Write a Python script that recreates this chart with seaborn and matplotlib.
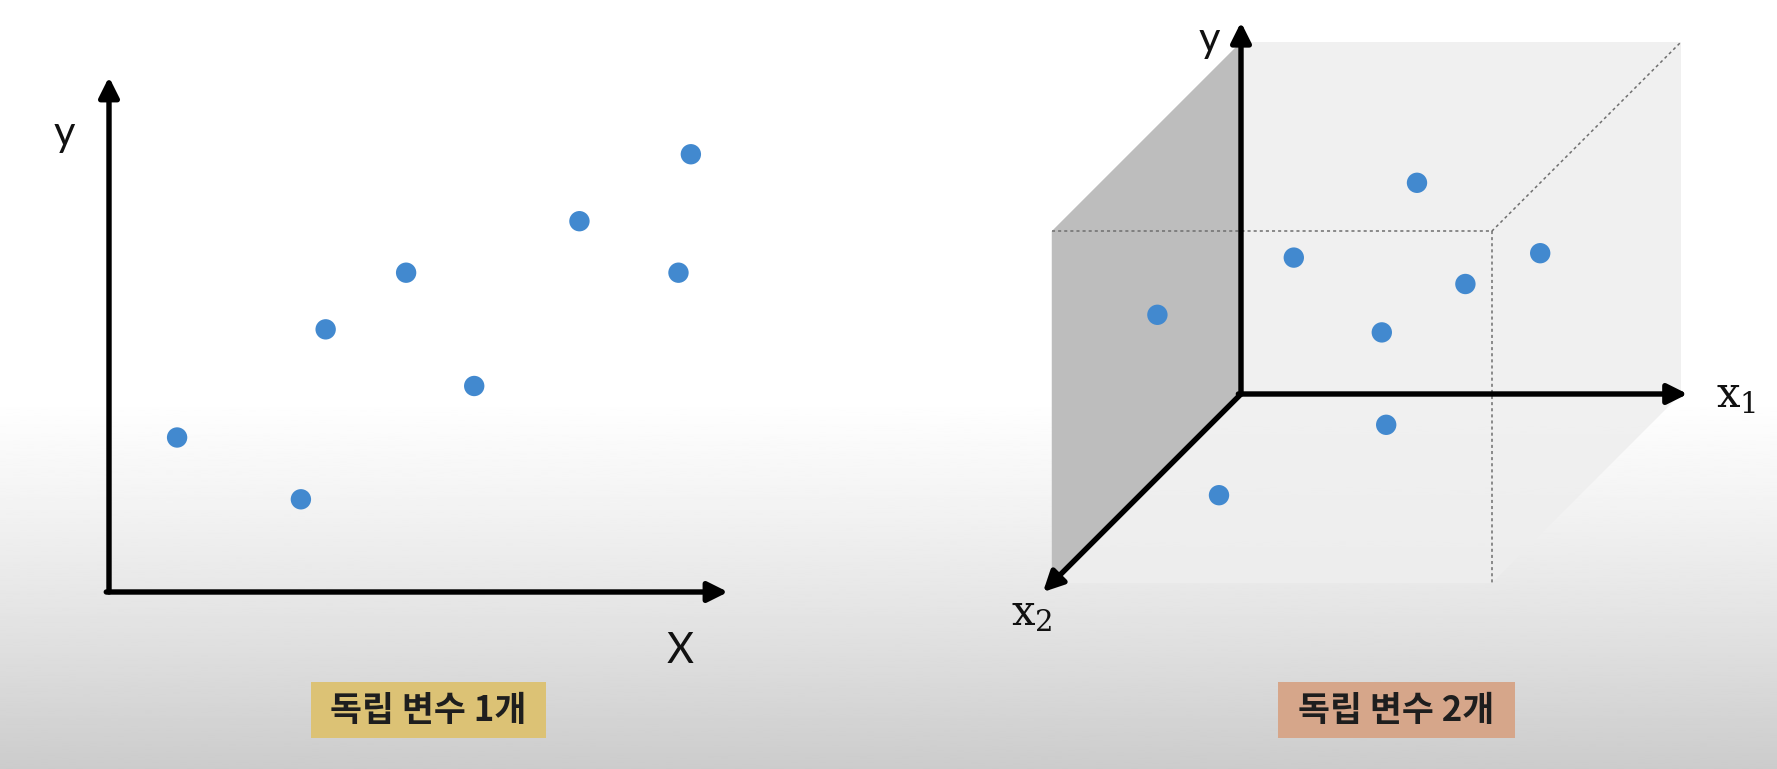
import numpy as np
import pandas as pd
import matplotlib
matplotlib.use("Agg")
import matplotlib.pyplot as plt
from matplotlib.patches import Polygon, Rectangle
import seaborn as sns

# left panel: one independent variable (x, y)
x_one = [1.1, 3.1, 3.5, 4.8, 5.9, 7.6, 9.2, 9.4]
y_one = [3.0, 1.8, 5.1, 6.2, 4.0, 7.2, 6.2, 8.5]

# right panel: two independent variables (x1, x2, y)
x1_two = [5.0, 2.2, 7.8, 6.1, 4.2, 0.0, 4.0, 1.8]
x2_two = [2.0, 2.0, 2.0, 2.0, 2.0, 3.8, 1.4, 4.6]
y_two = [5.8, 4.1, 4.2, 3.5, 2.4, 3.7, 0.0, 0.0]

# box limits of the 3d sketch
box_x1 = 10.0
box_x2 = 8.6
box_y = 8.0

captions = ["독립 변수 1개", "독립 변수 2개"]
caption_colors = ["#dcc275", "#d6a68a"]

dot_color = "#4289cf"
axis_lw = 3.9


# oblique projection of (x1, x2, y) onto the page
def project(x1, x2, y):
    x1 = np.asarray(x1, dtype=float)
    x2 = np.asarray(x2, dtype=float)
    y = np.asarray(y, dtype=float)
    return x1 - 0.5 * x2, y - 0.5 * x2


def arrow(ax, start, end, z=4):
    # draw a black axis line with a filled arrow head
    ax.annotate("", xy=end, xytext=start,
                arrowprops=dict(arrowstyle="-|>", lw=axis_lw, color="black",
                                mutation_scale=30, shrinkA=0, shrinkB=0),
                annotation_clip=False, zorder=z)


def main():
    sns.set_theme(style="white")
    plt.rcParams["font.family"] = ["Noto Sans CJK KR", "DejaVu Sans"]
    plt.rcParams["mathtext.fontset"] = "dejavuserif"

    W, H = 1777, 769
    fig = plt.figure(figsize=(W / 100, H / 100), dpi=100)

    # background: white fading to grey at the bottom
    bg = fig.add_axes([0, 0, 1, 1])
    t = np.linspace(0, 1, 400)
    shade = np.interp(t, [0.0, 0.52, 0.65, 0.8, 1.0], [1.0, 1.0, 0.955, 0.895, 0.80])
    bg.imshow(shade[:, None], cmap="gray", vmin=0, vmax=1, aspect="auto",
              extent=[0, 1, 0, 1], interpolation="bilinear")
    bg.set_xlim(0, 1)
    bg.set_ylim(0, 1)
    bg.axis("off")

    # caption boxes (pixel positions of the slide)
    boxes = [(311, 682, 546, 738), (1278, 682, 1515, 738)]
    for (x0, y0, x1, y1), text, color in zip(boxes, captions, caption_colors):
        bg.add_patch(Rectangle((x0 / W, 1 - y1 / H), (x1 - x0) / W, (y1 - y0) / H,
                               facecolor=color, edgecolor="none"))
        bg.text((x0 + x1) / 2 / W, 1 - (y0 + y1) / 2 / H, text, ha="center", va="center",
                fontsize=25, fontweight="bold", color="#1e1e1e")

    # ---- left panel ----
    ax1 = fig.add_axes([109 / W, 1 - 592 / H, (728 - 109) / W, (592 - 77) / H])
    ax1.patch.set_alpha(0)
    ax1.set_xlim(0, 10)
    ax1.set_ylim(0, 10)
    ax1.axis("off")
    arrow(ax1, (0, 0), (0, 10))
    arrow(ax1, (-0.044, 0), (10, 0))  # start half a line width left so the corner is square
    sns.scatterplot(x=x_one, y=y_one, s=215, color=dot_color, edgecolor="none", ax=ax1,
                    clip_on=False, zorder=5)
    ax1.text(-0.72, 8.9, "y", fontsize=30, family="Lato", color="#111111",
             ha="center", va="center")
    ax1.text(9.22, -1.15, "X", fontsize=30, family="Lato", color="#111111",
             ha="center", va="center")

    # ---- right panel ----
    unit = 44.0
    ox, oy = 1241, 394
    xmin, xmax, ymin, ymax = -5.0, 12.0, -6.0, 9.0
    ax2 = fig.add_axes([(ox + xmin * unit) / W, 1 - (oy - ymin * unit) / H,
                        (xmax - xmin) * unit / W, (ymax - ymin) * unit / H])
    ax2.patch.set_alpha(0)
    ax2.set_xlim(xmin, xmax)
    ax2.set_ylim(ymin, ymax)
    ax2.axis("off")

    # light box outline (back, top, right and floor faces)
    corners = [(0, box_x2, box_y), (0, 0, box_y), (box_x1, 0, box_y), (box_x1, 0, 0),
               (box_x1, box_x2, 0), (0, box_x2, 0)]
    px, py = project(*zip(*corners))
    ax2.add_patch(Polygon(list(zip(px, py)), closed=True, facecolor="#eeeeee",
                          edgecolor="none", alpha=0.85, zorder=1))

    # dark side wall (x1 = 0 plane)
    wall = [(0, 0, 0), (0, 0, box_y), (0, box_x2, box_y), (0, box_x2, 0)]
    px, py = project(*zip(*wall))
    ax2.add_patch(Polygon(list(zip(px, py)), closed=True, facecolor="#bdbdbd",
                          edgecolor="none", zorder=2))

    # dotted front edges
    front = [[(0, box_x2, box_y), (box_x1, box_x2, box_y)],
             [(box_x1, box_x2, box_y), (box_x1, 0, box_y)],
             [(box_x1, box_x2, box_y), (box_x1, box_x2, 0)]]
    for seg in front:
        px, py = project(*zip(*seg))
        ax2.plot(px, py, color="#6e6e6e", lw=1.1, linestyle=(0, (2, 2)), zorder=3)

    # axes x1, y, x2
    arrow(ax2, (0, 0), (0, 8.45))
    arrow(ax2, (-0.06, 0), (10.15, 0))
    tip = project(0, 9.0, 0)
    arrow(ax2, (0, 0), (float(tip[0]), float(tip[1])))

    # data points projected into the page
    df = pd.DataFrame({"x1": x1_two, "x2": x2_two, "y": y_two})
    df["px"], df["py"] = project(df["x1"], df["x2"], df["y"])
    sns.scatterplot(data=df, x="px", y="py", s=215, color=dot_color, edgecolor="none",
                    ax=ax2, clip_on=False, zorder=6)

    ax2.text(-0.72, 8.05, "y", fontsize=30, family="Lato", color="#111111",
             ha="center", va="center")
    ax2.text(11.25, -0.05, r"$\mathrm{x}_1$", fontsize=30, color="#111111",
             ha="center", va="center")
    ax2.text(-4.75, -5.0, r"$\mathrm{x}_2$", fontsize=30, color="#111111",
             ha="center", va="center")

    fig.savefig("out.png", dpi=100)


if __name__ == "__main__":
    main()
